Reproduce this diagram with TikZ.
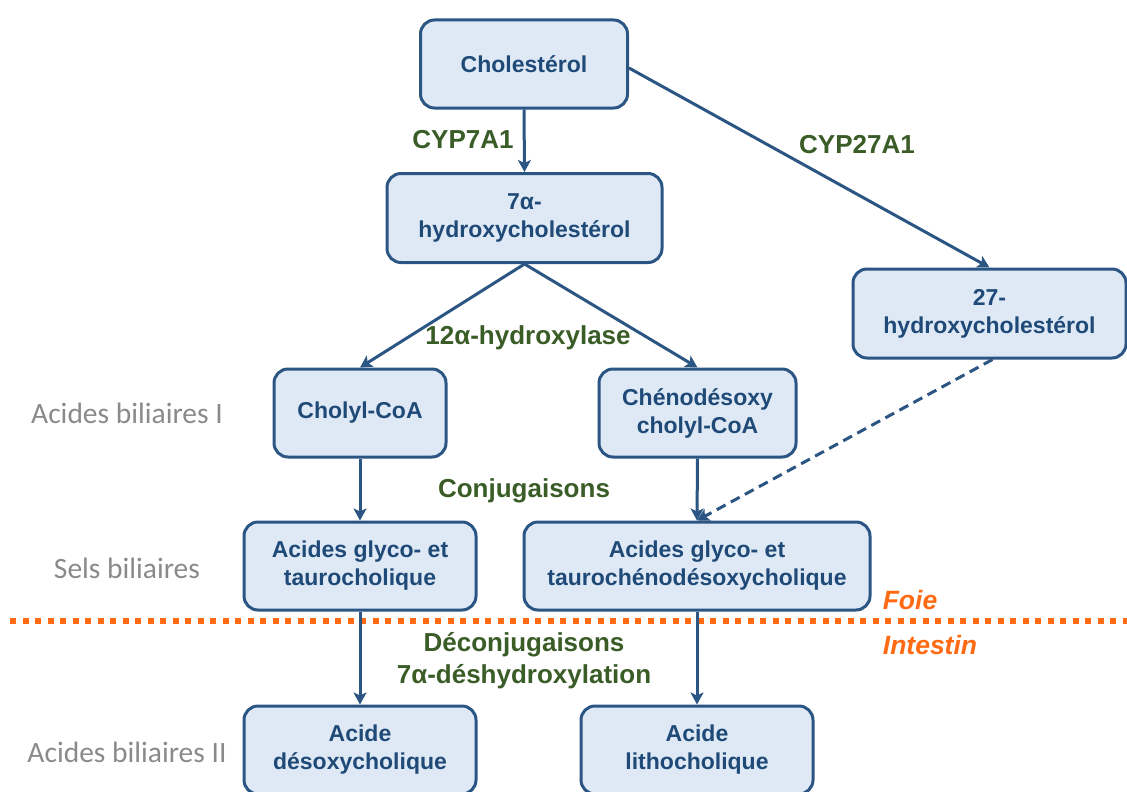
\documentclass[tikz,border=0pt]{standalone}
\usepackage{fontspec}
\setmainfont{Liberation Sans}
\newfontfamily\grayfont{Carlito}
\usetikzlibrary{arrows.meta}
\definecolor{boxfill}{HTML}{DEE9F5}
\definecolor{boxdraw}{HTML}{2B5583}
\definecolor{boxtext}{HTML}{1F4A78}
\definecolor{enzgreen}{HTML}{3A5C27}
\definecolor{orng}{HTML}{FF6A13}
\definecolor{graytxt}{HTML}{8A8A8A}
\tikzset{
  stepbox/.style={draw=boxdraw, fill=boxfill, line width=3pt, rounded corners=14pt,
    align=center, text=boxtext, font=\fontsize{23}{28}\selectfont\bfseries,
    inner sep=0pt},
  enz/.style={text=enzgreen, font=\fontsize{26}{32}\selectfont\bfseries, align=center, inner sep=0pt},
  side/.style={text=graytxt, font=\grayfont\fontsize{29.5}{32}\selectfont, inner sep=0pt},
  organ/.style={text=orng, font=\fontsize{26.5}{30}\selectfont\bfseries\itshape, inner sep=0pt},
  arr/.style={draw=boxdraw, line width=3pt, -{Stealth[length=12pt,width=13pt,inset=3pt]}},
}
\begin{document}
\begin{tikzpicture}[x=1pt,y=-1pt]
\useasboundingbox (0,0) rectangle (1127,792);
% boxes
\node[stepbox, minimum width=207pt, minimum height=88pt] (chol) at (524,64) {Cholestérol};
\node[stepbox, minimum width=275pt, minimum height=89pt] (h7) at (524.5,218) {7α-\\hydroxycholestérol};
\node[stepbox, minimum width=273pt, minimum height=89pt] (h27) at (989.5,313.5) {27-\\hydroxycholestérol};
\node[stepbox, minimum width=172pt, minimum height=88pt] (cholyl) at (360,413) {Cholyl-CoA};
\node[stepbox, minimum width=197pt, minimum height=88pt] (cheno) at (697.5,413) {Chénodésoxy\\cholyl-CoA};
\node[stepbox, minimum width=232pt, minimum height=88pt] (gtc) at (360,566) {Acides glyco- et\\taurocholique};
\node[stepbox, minimum width=346pt, minimum height=88pt] (gtcdc) at (697,566) {Acides glyco- et\\taurochénodésoxycholique};
\node[stepbox, minimum width=232pt, minimum height=88pt] (dca) at (360,750) {Acide\\désoxycholique};
\node[stepbox, minimum width=232pt, minimum height=88pt] (lca) at (697,750) {Acide\\lithocholique};
% enzyme labels
\node[enz] (cyp7) at (463,140) {CYP7A1};
\node[enz] (cyp27) at (857,145) {CYP27A1};
\node[enz] (hydrox) at (528,338) {12α-hydroxylase};
\node[enz] (conj) at (524,491) {Conjugaisons};
\node[enz] (deconj) at (524,661) {Déconjugaisons\\7α-déshydroxylation};
% side labels
\node[side] (ab1) at (127,413) {Acides biliaires I};
\node[side] (sels) at (127,568) {Sels biliaires};
\node[side] (ab2) at (127,752) {Acides biliaires II};
% organ labels
\node[organ] (foie) at (910,600) {Foie};
\node[organ] (intestin) at (930,645) {Intestin};
% border line
\coordinate (bl) at (10,621);
\coordinate (br) at (1127,621);
\draw[orng, line width=6pt, dash pattern=on 6pt off 6.5pt] (bl) -- (br);
% arrows
\draw[arr] (chol.south) -- (h7.north);
\draw[arr] (chol.east) ++(0,4) -- (h27.north);
\draw[arr] (h7.south) -- (cholyl.north);
\draw[arr] (h7.south) -- (cheno.north);
\draw[arr] (cholyl.south) -- (gtc.north);
\draw[arr] (cheno.south) -- (gtcdc.north);
\draw[arr, dash pattern=on 10pt off 6pt] ([xshift=3pt]h27.south) -- (gtcdc.north);
\draw[arr] (gtc.south) -- (dca.north);
\draw[arr] (gtcdc.south) -- (lca.north);
\end{tikzpicture}
\end{document}
